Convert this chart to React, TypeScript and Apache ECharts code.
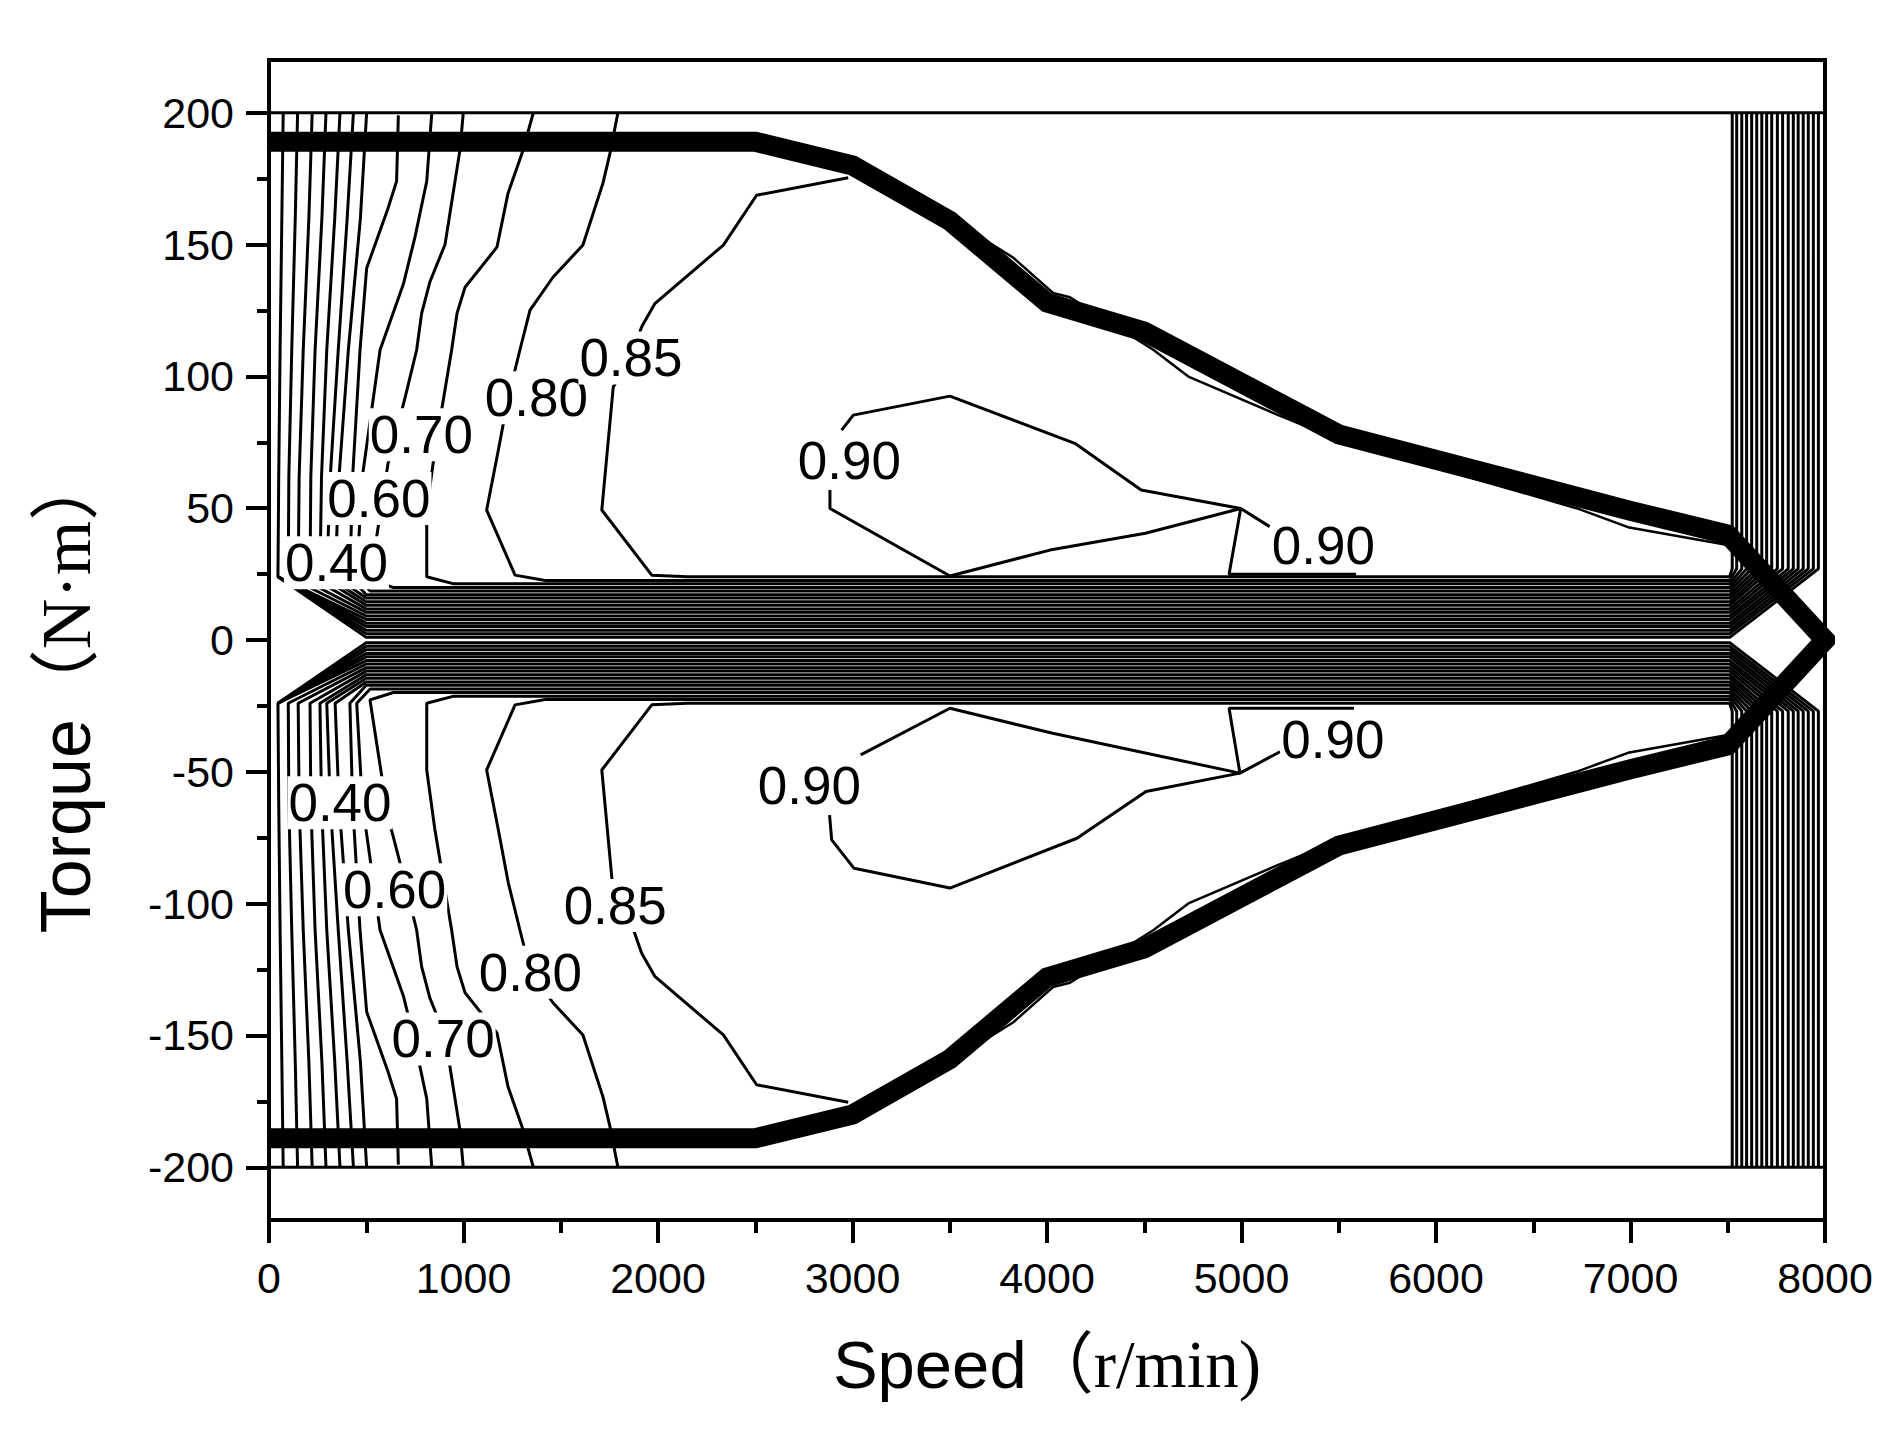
import React, { useEffect, useRef } from "react";
import * as echarts from "echarts";

// ---------- axes ----------
const speedMin = 0;
const speedMax = 8000;
const speedStep = 1000;
const torqueMin = -220;
const torqueMax = 220;
const torqueMajorTicks = [-200, -150, -100, -50, 0, 50, 100, 150, 200];
const torqueMinorTicks = [-175, -125, -75, -25, 25, 75, 125, 175];

// ---------- data frame lines (torque = +/-200) ----------
const frameTorque = [200, -200];

// ---------- maximum torque envelope (upper half, mirrored below) ----------
const envelopeUpper: number[][] = [
  [0, 189], [2500, 189], [3000, 180], [3500, 159], [4000, 128],
  [4500, 117], [5500, 78], [7000, 49], [7500, 40], [8000, 0],
];
const blankEdgeUpper: number[][] = [
  [2500, 189], [3000, 177], [3500, 160], [3827, 145], [4031, 131.6],
  [4118, 130], [4548, 110], [4730, 99.8], [5208, 84.7], [5500, 76],
  [6722, 50], [6987, 42.8], [7500, 36],
];

// ---------- efficiency contours (upper half, left part ending on the band) ----------
const stub0 = [[46, 24], [500, 1.0]];
const stub1 = [[46, 24], [500, 2.4]];
const stub2 = [[46, 24], [500, 3.7]];
const stub3 = [[46, 24], [500, 5.1]];
const stub4 = [[46, 24], [500, 6.4]];
const eff025 = [[73, 200], [66, 160], [57, 110], [50, 62], [46, 24], [500, 7.8]];
const eff030 = [[147, 200], [135, 160], [117, 110], [102, 62], [99, 24], [500, 9.1]];
const eff035 = [[222, 200], [205, 160], [176, 110], [155, 62], [150, 24], [500, 10.5]];
const eff040 = [[293, 200], [272, 160], [237, 110], [215, 62], [211, 24], [500, 11.8]];
const eff045 = [[365, 200], [338, 160], [297, 110], [270, 62], [262, 24], [500, 13.2]];
const eff050 = [[434, 200], [402, 160], [356, 110], [315, 62], [297, 24], [500, 14.5]];
const eff055 = [[502, 200], [470, 160], [408, 110], [360, 62], [340, 24], [500, 15.9]];
const eff060 = [[665, 199], [656, 174], [613, 164], [502, 141], [468, 110], [430, 62], [416, 24], [500, 17.2]];
const eff065 = [[837, 200], [811, 174], [751, 153], [691, 135], [571, 110], [480, 62], [451, 24], [520, 18.6]];
const eff070 = [[999, 200], [982, 186], [905, 150], [828, 136], [785, 124], [759, 110], [700, 92], [612, 67], [519, 22.7], [640, 19.9]];
const eff075 = [[1359, 200], [1301, 184.6], [1229, 169.5], [1172, 149], [1008, 133.8], [967, 124], [939, 110], [853, 72], [811, 49.3], [811, 24], [950, 21.3]];
const eff080 = [[1794, 200], [1753, 184.6], [1717, 173.3], [1614, 149.8], [1460, 137.6], [1342, 125.1], [1290, 110], [1230, 92], [1179, 72], [1119, 49.3], [1265, 24.6], [1420, 22.6]];
const eff085 = [[2978, 175.3], [2507, 168.7], [2336, 149.8], [1985, 127.7], [1916, 118.8], [1860, 107], [1770, 96], [1711, 49.3], [1968, 24.6], [2150, 24.0]];

const contourLeftParts = [
  stub0, stub1, stub2, stub3, stub4, eff025, eff030, eff035, eff040,
  eff045, eff050, eff055, eff060, eff065, eff070, eff075, eff080, eff085,
];
const bandTorque = [1.0, 2.4, 3.7, 5.1, 6.4, 7.8, 9.1, 10.5, 11.8, 13.2, 14.5, 15.9, 17.2, 18.6, 19.9, 21.3, 22.6, 24.0];
const rightLineSpeed = [7966, 7940, 7914, 7888, 7862, 7837, 7811, 7782, 7755, 7726, 7700, 7675, 7649, 7623, 7597, 7572, 7546, 7523];
const bandEndSpeed = 7510;
const rightFootTorque = 27;
const rightTopTorque = 200;

// ---------- 0.90 contour pieces ----------
const eff090UpA = [[2944, 79.6], [3004, 85.3], [3501, 92.5], [4143, 74.6], [4484, 56.9], [4996, 49.9], [5145, 43.0]];
const eff090UpB = [[2884, 56.9], [2884, 49.9], [3501, 24.3], [4015, 34.1], [4506, 40.5], [4996, 49.9]];
const eff090UpC = [[4996, 49.9], [4936, 24.9], [5589, 24.9]];
const eff090LoA = [[3042, -43.6], [3501, -25.9], [4029, -35.4], [4992, -50.5], [5198, -42.4]];
const eff090LoB = [[2882, -66.4], [2893, -75.8], [3008, -86.6], [3501, -94.1], [4154, -75.2], [4509, -57.5], [4992, -50.5]];
const eff090LoC = [[4992, -50.5], [4936, -25.9], [5578, -25.9]];

// ---------- contour labels ----------
const labelText = ["0.40", "0.60", "0.70", "0.80", "0.85", "0.90", "0.90", "0.40", "0.60", "0.70", "0.80", "0.85", "0.90", "0.90"];
const labelSpeed = [347, 565, 783, 1375, 1861, 2984, 5421, 365, 646, 895, 1344, 1780, 2778, 5470];
const labelTorque = [29.3, 53.7, 77.9, 91.9, 107, 68, 35.8, -61.7, -94.7, -151.3, -126, -100.7, -55.2, -37.8];

const sans = "'Liberation Sans', Arial, Helvetica, sans-serif";
const serif = "'Liberation Serif', 'Times New Roman', 'Noto Sans CJK SC', serif";

function mirror(p: number[][]) {
  return p.map(([s, t]) => [s, -t]);
}

export default function App() {
  const ref = useRef<HTMLDivElement>(null);

  useEffect(() => {
    if (!ref.current) return;
    const chart = echarts.init(ref.current, undefined, { renderer: "svg" });

    const thin = { color: "#000", width: 3 };
    const series: any[] = [];

    const upperPaths = contourLeftParts.map((lp, i) => [
      ...lp,
      [bandEndSpeed, bandTorque[i]],
      [rightLineSpeed[i], rightFootTorque],
      [rightLineSpeed[i], rightTopTorque],
    ]);
    const allPaths = [...upperPaths, ...upperPaths.map(mirror)];
    allPaths.forEach((p) =>
      series.push({ type: "line", data: p, symbol: "none", silent: true, lineStyle: thin, z: 2 })
    );

    [eff090UpA, eff090UpB, eff090UpC, eff090LoA, eff090LoB, eff090LoC].forEach((p) =>
      series.push({ type: "line", data: p, symbol: "none", silent: true, lineStyle: thin, z: 2 })
    );

    frameTorque.forEach((t) =>
      series.push({
        type: "line",
        data: [[speedMin, t], [speedMax, t]],
        symbol: "none",
        silent: true,
        lineStyle: thin,
        z: 2,
      })
    );

    [blankEdgeUpper, mirror(blankEdgeUpper)].forEach((p) =>
      series.push({ type: "line", data: p, symbol: "none", silent: true, lineStyle: { color: "#000", width: 2.5 }, z: 3 })
    );

    const envelope = [...envelopeUpper, ...mirror(envelopeUpper).reverse().slice(1)];
    series.push({
      type: "line",
      data: envelope,
      symbol: "none",
      silent: true,
      lineStyle: { color: "#000", width: 20, join: "miter" },
      z: 4,
    });

    series.push({
      type: "custom",
      silent: true,
      z: 6,
      clip: false,
      data: labelSpeed.map((s, i) => [s, labelTorque[i]]),
      encode: { x: 0, y: 1 },
      renderItem: (params: any, api: any) => {
        const p = api.coord([api.value(0), api.value(1)]);
        return {
          type: "text",
          x: p[0],
          y: p[1],
          style: {
            text: labelText[params.dataIndex],
            fill: "#000",
            fontSize: 53,
            fontFamily: sans,
            align: "center",
            verticalAlign: "middle",
            backgroundColor: "#fff",
            padding: [0, 1],
          },
        };
      },
    });

    chart.setOption({
      animation: false,
      backgroundColor: "#fff",
      grid: {
        left: 269,
        right: 76,
        top: 60,
        bottom: 217,
        show: true,
        borderColor: "#000",
        borderWidth: 4,
        outerBoundsMode: "none",
      },
      graphic: [
        {
          type: "text",
          x: 66,
          y: 692,
          rotation: Math.PI / 2,
          style: {
            text: "{a|Torque}{b|（N·m）}",
            align: "center",
            verticalAlign: "middle",
            rich: {
              a: { fontFamily: sans, fontSize: 70, fill: "#000", lineHeight: 76 },
              b: { fontFamily: serif, fontSize: 70, fill: "#000", lineHeight: 76 },
            },
          },
        },
      ],
      xAxis: {
        type: "value",
        min: speedMin,
        max: speedMax,
        interval: speedStep,
        name: "{a|Speed}{b|（r/min)}",
        nameLocation: "middle",
        nameGap: 108,
        nameTextStyle: {
          rich: {
            a: { fontFamily: sans, fontSize: 67, color: "#000", lineHeight: 72 },
            b: { fontFamily: serif, fontSize: 67, color: "#000", lineHeight: 72 },
          },
        },
        axisLine: { show: true, onZero: false, lineStyle: { color: "#000", width: 4 } },
        axisTick: { show: true, inside: false, length: 23, lineStyle: { color: "#000", width: 4 } },
        minorTick: { show: true, splitNumber: 2, length: 13, lineStyle: { color: "#000", width: 4 } },
        axisLabel: {
          margin: 36,
          fontSize: 43,
          fontFamily: sans,
          color: "#000",
          formatter: (v: number) => String(v),
        },
        splitLine: { show: false },
      },
      yAxis: [
        {
          type: "value",
          min: torqueMin,
          max: torqueMax,
          axisLine: { show: true, onZero: false, lineStyle: { color: "#000", width: 4 } },
          axisTick: {
            show: true,
            inside: false,
            length: 23,
            customValues: torqueMajorTicks,
            lineStyle: { color: "#000", width: 4 },
          },
          axisLabel: {
            margin: 35,
            fontSize: 43,
            fontFamily: sans,
            color: "#000",
            customValues: torqueMajorTicks,
            formatter: (v: number) => String(v),
          },
          splitLine: { show: false },
        },
        {
          type: "value",
          min: torqueMin,
          max: torqueMax,
          position: "left",
          axisLine: { show: false },
          axisTick: {
            show: true,
            inside: false,
            length: 12,
            customValues: torqueMinorTicks,
            lineStyle: { color: "#000", width: 4 },
          },
          axisLabel: { show: false },
          splitLine: { show: false },
        },
      ],
      series,
    });

    return () => chart.dispose();
  }, []);

  return (
    <div
      ref={ref}
      style={{ position: "absolute", left: 0, top: 0, width: 1901, height: 1437, background: "#fff" }}
    />
  );
}
